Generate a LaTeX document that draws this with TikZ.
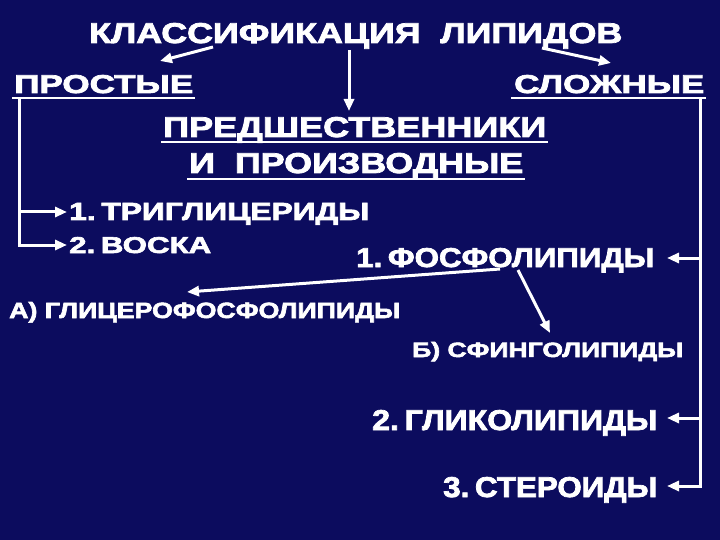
\documentclass[tikz,border=0pt]{standalone}
\usepackage{fontspec}
\setmainfont{Liberation Sans}
\newfontfamily\heavy{Liberation Sans Bold}[FakeBold=2.5]
\usepackage{graphicx}
\usetikzlibrary{arrows.meta,calc}
\definecolor{navy}{RGB}{12,12,94}
\newcommand{\fitt}[3]{\resizebox{#1pt}{#2pt}{\heavy #3}}
\newcommand{\nsp}{\hspace{0.18em}}
\tikzset{
  txt/.style={text=white, inner sep=0pt, anchor=base west},
  arr/.style={draw=white, line width=3pt, -{Triangle[length=12pt,width=10pt]}},
  ul/.style={draw=white, line width=2pt}
}
\begin{document}
\begin{tikzpicture}[x=1pt,y=-1pt]
\fill[navy] (0,0) rectangle (720,540);
\useasboundingbox (0,0) rectangle (720,540);
% texts
\node[txt] (title) at (89,43) {\fitt{533}{20}{КЛАССИФИКАЦИЯ\ \ ЛИПИДОВ}};
\node[txt] (prost) at (14,93) {\fitt{179}{18}{ПРОСТЫЕ}};
\node[txt] (slozh) at (514,93) {\fitt{190}{18}{СЛОЖНЫЕ}};
\node[txt] (pred) at (163,137) {\fitt{383}{20}{ПРЕДШЕСТВЕННИКИ}};
\node[txt] (proizv) at (189,173) {\fitt{334}{20}{И\ \ ПРОИЗВОДНЫЕ}};
\node[txt] (tri) at (69,220) {\fitt{300}{17}{1.\nsp ТРИГЛИЦЕРИДЫ}};
\node[txt] (voska) at (69,253) {\fitt{142}{16}{2.\nsp ВОСКА}};
\node[txt] (fosf) at (356,267) {\fitt{298}{19}{1.\nsp ФОСФОЛИПИДЫ}};
\node[txt] (glycero) at (9,318) {\fitt{391}{16}{А) ГЛИЦЕРОФОСФОЛИПИДЫ}};
\node[txt] (sfing) at (412,357) {\fitt{271}{15}{Б) СФИНГОЛИПИДЫ}};
\node[txt] (glyco) at (372,430) {\fitt{285}{20}{2.\nsp ГЛИКОЛИПИДЫ}};
\node[txt] (stero) at (443,497) {\fitt{214}{20}{3.\nsp СТЕРОИДЫ}};
% underlines
\draw[ul] ($(prost.base west)+(-2,5)$) -- ($(prost.base east)+(2,5)$);
\draw[ul] ($(slozh.base west)+(-3,5)$) -- ($(slozh.base east)+(2,5)$);
\draw[ul] ($(pred.base west)+(-2,5)$) -- ($(pred.base east)+(2,5)$);
\draw[ul] ($(proizv.base west)+(-2,6)$) -- ($(proizv.base east)+(2,6)$);
% coordinates
\coordinate (t1) at (213,47); \coordinate (p1) at (160,61);
\coordinate (t2) at (542,48); \coordinate (s1) at (611,63);
\coordinate (t3) at (349,50); \coordinate (m1) at (349,111);
\coordinate (lt) at (19,99); \coordinate (a1) at (67,212); \coordinate (a2) at (67,245);
\coordinate (rt) at (700,99); \coordinate (b1) at (667,258); \coordinate (b2) at (667,418); \coordinate (b3) at (667,486);
\coordinate (f1) at (500,269); \coordinate (g1) at (187,292);
\coordinate (f2) at (518,270); \coordinate (g2) at (550,333);
% connectors
\draw[arr] (t1) -- (p1);
\draw[arr] (t2) -- (s1);
\draw[arr] (t3) -- (m1);
\draw[arr] (lt) |- (a1);
\draw[arr] (lt) |- (a2);
\draw[arr] (rt) |- (b1);
\draw[arr] (rt) |- (b2);
\draw[arr] (rt) |- (b3);
\draw[arr] (f1) -- (g1);
\draw[arr] (f2) -- (g2);
\end{tikzpicture}
\end{document}
